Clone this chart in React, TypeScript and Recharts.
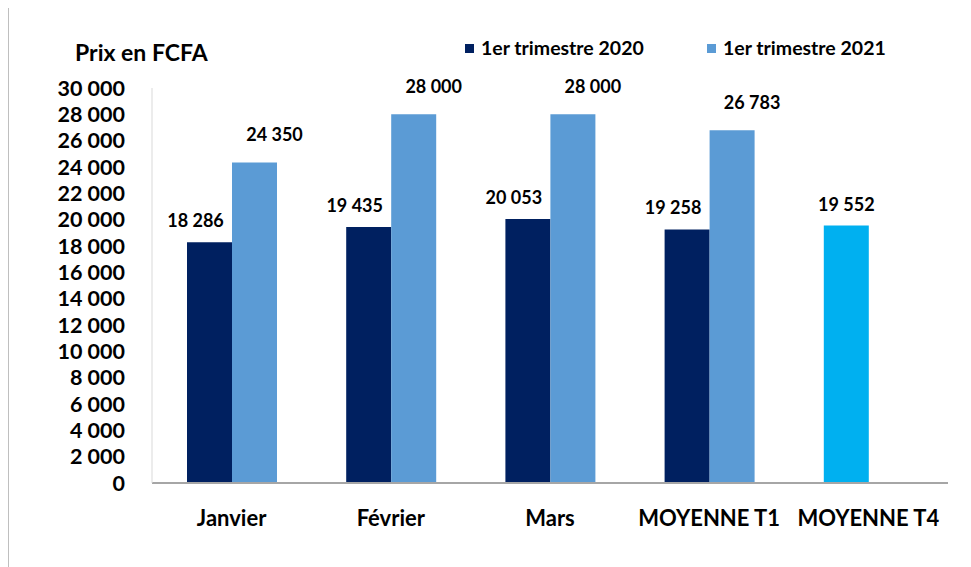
import { BarChart, Bar, XAxis, YAxis, Legend, Cell } from 'recharts';

const categories = ['Janvier', 'Février', 'Mars', 'MOYENNE T1', 'MOYENNE T4'];
const prix2020 = [18286, 19435, 20053, 19258, 19552];
const prix2021: (number | null)[] = [24350, 28000, 28000, 26783, null];
const yTicks = [0, 2000, 4000, 6000, 8000, 10000, 12000, 14000, 16000, 18000, 20000, 22000, 24000, 26000, 28000, 30000];

const data = categories.map((c, i) => ({ cat: c, a2020: prix2020[i], a2021: prix2021[i] }));

const FONT = 'Lato, "Open Sans", sans-serif';
const C2020 = '#002060';
const C2021 = '#5B9BD5';
const CT4 = '#00B0F0';

const fmt = (n: number) => String(n).replace(/\B(?=(\d{3})+(?!\d))/g, ' ');

const makeLabel = (dx: number, dy: number) => (props: any) => {
  const { x, y, width, value, index } = props;
  if (value == null) return null;
  const shift = prix2021[index] == null ? 0 : dx;
  return (
    <text
      x={Number(x) + Number(width) / 2 + shift}
      y={Number(y) - dy}
      textAnchor="middle"
      dominantBaseline="central"
      fontFamily={FONT}
      fontWeight={700}
      fontSize={18}
      fill="#000"
    >
      {fmt(value)}
    </text>
  );
};

const LegendBox = (props: any) => {
  const items = props.payload || [];
  return (
    <div style={{ display: 'flex' }}>
      {items.map((it: any) => (
        <div key={it.value} style={{ width: 242, display: 'flex', alignItems: 'center' }}>
          <span style={{ width: 9, height: 9, background: it.color, marginRight: 7, display: 'inline-block' }} />
          <span style={{ fontFamily: FONT, fontWeight: 700, fontSize: 19.5, color: '#000', lineHeight: '24px' }}>
            {it.value}
          </span>
        </div>
      ))}
    </div>
  );
};

export default function App() {
  return (
    <div
      style={{
        position: 'relative',
        width: 980,
        height: 570,
        marginTop: -3,
        borderTop: '1px solid #bfbfbf',
        borderLeft: '1px solid #bfbfbf',
        background: '#fff',
      }}
    >
      <div
        style={{
          position: 'absolute',
          left: 66,
          top: 34,
          fontFamily: FONT,
          fontWeight: 700,
          fontSize: 23,
          lineHeight: '24px',
          color: '#000',
        }}
      >
        Prix en FCFA
      </div>
      <BarChart
        width={962}
        height={561}
        data={data}
        margin={{ top: 82, right: 23, bottom: 24, left: 0 }}
        barSize={45}
        barGap={0}
      >
        <XAxis
          dataKey="cat"
          height={60}
          interval={0}
          tickLine={false}
          tickSize={0}
          tickMargin={27}
          axisLine={{ stroke: '#a6a6a6', strokeWidth: 2 }}
          tick={{ fontFamily: FONT, fontWeight: 700, fontSize: 22, fill: '#000' }}
        />
        <YAxis
          width={143}
          domain={[0, 30000]}
          ticks={yTicks}
          interval={0}
          tickFormatter={fmt}
          tickLine={false}
          tickSize={0}
          tickMargin={27}
          axisLine={{ stroke: '#d9d9d9' }}
          tick={{ fontFamily: FONT, fontWeight: 700, fontSize: 21.5, fill: '#000' }}
        />
        <Legend
          layout="horizontal"
          verticalAlign="middle"
          align="center"
          content={<LegendBox />}
          wrapperStyle={{ position: 'absolute', top: 30, left: 456, width: 500 }}
        />
        <Bar dataKey="a2020" name="1er trimestre 2020" fill={C2020} isAnimationActive={false} label={makeLabel(-14, 22)}>
          {data.map((d) => (
            <Cell key={d.cat} fill={d.cat === 'MOYENNE T4' ? CT4 : C2020} />
          ))}
        </Bar>
        <Bar dataKey="a2021" name="1er trimestre 2021" fill={C2021} isAnimationActive={false} label={makeLabel(20, 28)} />
      </BarChart>
    </div>
  );
}
